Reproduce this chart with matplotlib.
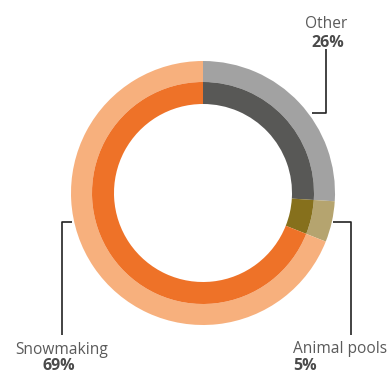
import matplotlib.pyplot as plt

# water use shares
labels = ["Other", "Animal pools", "Snowmaking"]
shares = [26, 5, 69]
outer_colors = ["#a2a2a2", "#b5a46f", "#f7b07d"]
inner_colors = ["#585856", "#86701c", "#ee7228"]

W, H = 390, 374
fig = plt.figure(figsize=(W / 100, H / 100), dpi=100)
ax = fig.add_axes([0, 0, 1, 1])

cx, cy = 203, H - 193
ax.pie(shares, radius=132, center=(cx, cy), colors=outer_colors,
       startangle=90, counterclock=False, wedgeprops=dict(width=21, linewidth=0))
ax.pie(shares, radius=111, center=(cx, cy), colors=inner_colors,
       startangle=90, counterclock=False, wedgeprops=dict(width=22, linewidth=0))

ax.set_xlim(0, W)
ax.set_ylim(0, H)
ax.set_aspect("equal")
ax.axis("off")

# leader lines
line_kw = dict(color="#222222", lw=1.2, solid_capstyle="butt")
ax.plot([312, 326, 326], [H - 113, H - 113, H - 49], **line_kw)
ax.plot([333, 351, 351], [H - 222, H - 222, H - 335], **line_kw)
ax.plot([72, 62, 62], [H - 222, H - 222, H - 335], **line_kw)

txt = dict(family="Open Sans", color="#5a5a5a", fontsize=11.2)
bold = dict(family="Open Sans", color="#4a4a4a", fontsize=11.5, fontweight="bold")

ax.text(326, H - 28, labels[0], ha="center", va="baseline", **txt)
ax.text(328, H - 47, f"{shares[0]}%", ha="center", va="baseline", **bold)

ax.text(293, H - 353, labels[1], ha="left", va="baseline", **txt)
ax.text(293, H - 370, f"{shares[1]}%", ha="left", va="baseline", **bold)

ax.text(62, H - 354, labels[2], ha="center", va="baseline", **txt)
ax.text(59, H - 370, f"{shares[2]}%", ha="center", va="baseline", **bold)

fig.savefig("out.png", dpi=100)
